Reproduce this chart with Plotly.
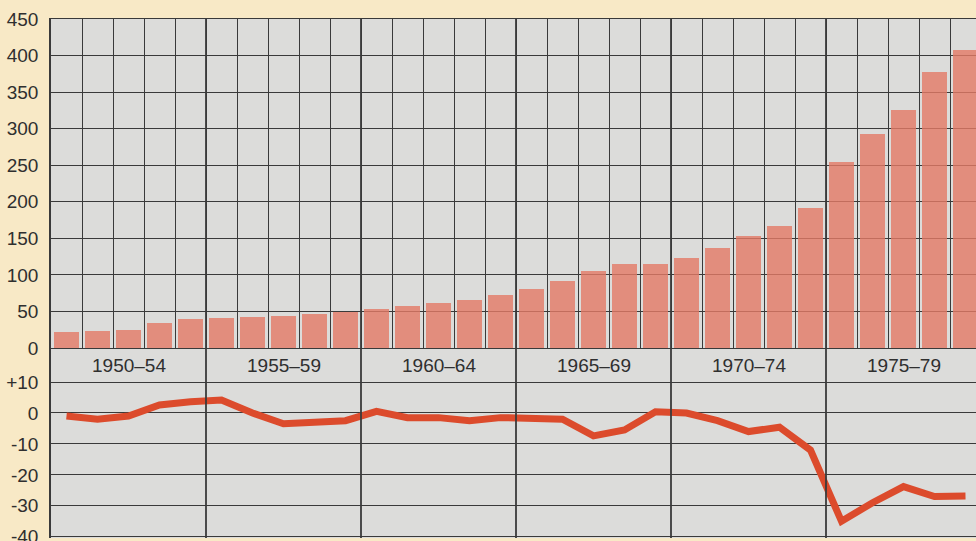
import plotly.graph_objects as go

# Annual values, 1950-1979
years = list(range(1950, 1980))
bar_values = [22, 23, 25, 34, 39, 41, 43, 44, 47, 49,
              54, 57, 61, 66, 73, 81, 91, 106, 115, 115,
              123, 137, 153, 167, 191, 255, 293, 325, 377, 408]
line_values = [-1, -2, -1, 2.6, 3.6, 4.2, 0, -3.5, -3, -2.5,
               0.5, -1.5, -1.5, -2.5, -1.5, -1.5, -2, -7.4, -5.5, 0.4,
               0, -2.5, -6, -4.6, -12, -35, -29, -23.8, -27, -26.8]
period_labels = ["1950–54", "1955–59", "1960–64", "1965–69", "1970–74", "1975–79"]
top_ticks = [0, 50, 100, 150, 200, 250, 300, 350, 400, 450]
bottom_ticks = [10, 0, -10, -20, -30, -40]
bottom_ticktext = ["+10", "0", "-10", "-20", "-30", "-40"]

W, H = 976, 541
ML, MT, MB = 51, 19, 3
COL_PX = 31
plot_w = W - ML
x_range = [-0.5, -0.5 + plot_w / COL_PX]

plot_h = H - MT - MB
split = (H - MB - 348) / plot_h

BG = "#f8e9c6"
PLOT_BG = "#dcdcda"
GRID = "#3a3a3a"
BAR = "rgb(228,122,102)"
LINE = "#dc4b2c"
TEXT = "#2f2f2f"
FONT = "Liberation Sans, Arial, sans-serif"

idx = list(range(len(years)))

fig = go.Figure()
# Slightly translucent bars so the grid shows through them
fig.add_trace(go.Bar(x=idx, y=bar_values, width=0.78, opacity=0.8,
                     marker=dict(color=BAR, line=dict(width=0)),
                     xaxis="x", yaxis="y", hoverinfo="skip"))
fig.add_trace(go.Scatter(x=idx, y=line_values, mode="lines",
                         line=dict(color=LINE, width=7),
                         xaxis="x2", yaxis="y2", hoverinfo="skip"))

# Period labels centred on each five-year block
for k, lab in enumerate(period_labels):
    fig.add_annotation(x=5 * k + 2, y=15.3, xref="x2", yref="y2", text=lab,
                       showarrow=False, font=dict(size=19, color=TEXT, family=FONT))

# Heavier separators between five-year blocks across both panels
for k in range(1, len(period_labels)):
    fig.add_shape(type="line", x0=5 * k - 0.5, x1=5 * k - 0.5, y0=0, y1=1,
                  xref="x", yref="paper", line=dict(color=GRID, width=1.8), layer="above")

fig.update_layout(
    width=W, height=H,
    margin=dict(l=ML, r=0, t=MT, b=MB, autoexpand=False),
    paper_bgcolor=BG, plot_bgcolor=PLOT_BG,
    showlegend=False, bargap=0,
    xaxis=dict(domain=[0, 1], range=x_range, anchor="y", automargin=False,
               tickvals=[i + 0.5 for i in idx], showticklabels=False, ticks="",
               showgrid=True, gridcolor=GRID, gridwidth=1.1, zeroline=False,
               showline=True, linecolor=GRID, linewidth=1, mirror=True),
    yaxis=dict(domain=[split, 1], range=[0, 450], tickvals=top_ticks, automargin=False,
               showgrid=True, gridcolor=GRID, gridwidth=1.4, zeroline=False,
               ticks="", ticklabelstandoff=7, ticklabeloverflow="allow",
               tickfont=dict(size=19, color=TEXT, family=FONT),
               showline=True, linecolor=GRID, linewidth=1.5, mirror=True),
    xaxis2=dict(domain=[0, 1], range=x_range, anchor="y2", automargin=False,
                tickvals=[5 * k - 0.5 for k in range(1, 6)], showticklabels=False,
                ticks="", showgrid=False, zeroline=False),
    yaxis2=dict(domain=[0, split], range=[-40.4, 21], tickvals=bottom_ticks,
                ticktext=bottom_ticktext, automargin=False,
                showgrid=True, gridcolor=GRID, gridwidth=1.4, zeroline=False,
                ticks="", ticklabelstandoff=7, ticklabeloverflow="allow",
                tickfont=dict(size=19, color=TEXT, family=FONT),
                showline=True, linecolor=GRID, linewidth=1.5, mirror=False),
)

fig.write_html("out.html")
